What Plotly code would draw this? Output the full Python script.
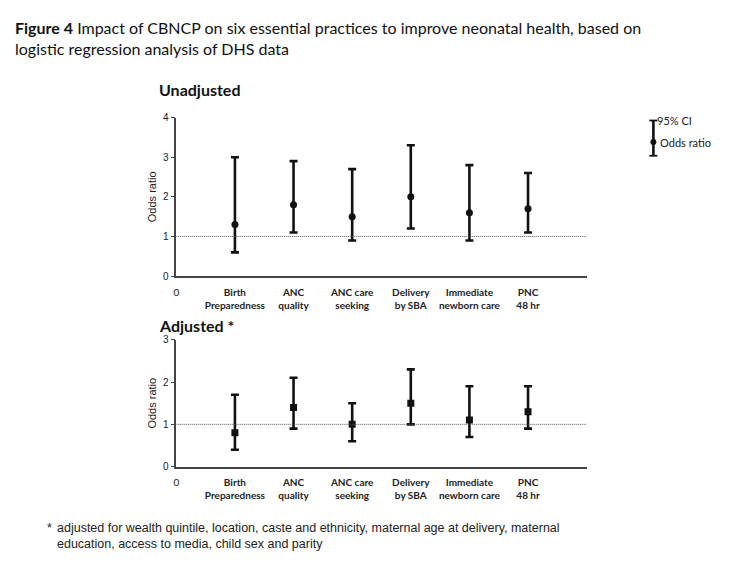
import plotly.graph_objects as go

categories = ["Birth<br>Preparedness", "ANC<br>quality", "ANC care<br>seeking",
              "Delivery<br>by SBA", "Immediate<br>newborn care", "PNC<br>48 hr"]
positions = [1, 2, 3, 4, 5, 6]

unadj_or = [1.3, 1.8, 1.5, 2.0, 1.6, 1.7]
unadj_lo = [0.6, 1.1, 0.9, 1.2, 0.9, 1.1]
unadj_hi = [3.0, 2.9, 2.7, 3.3, 2.8, 2.6]

adj_or = [0.8, 1.4, 1.0, 1.5, 1.1, 1.3]
adj_lo = [0.4, 0.9, 0.6, 1.0, 0.7, 0.9]
adj_hi = [1.7, 2.1, 1.5, 2.3, 1.9, 1.9]

W, H = 750, 563
def px(x): return x / W
def py(y): return 1 - y / H

TITLE_FONT = "Lato"

fig = go.Figure()

def add_panel(orv, lo, hi, symbol, msize, xa, ya):
    fig.add_trace(go.Scatter(
        x=positions, y=orv, mode="markers", xaxis=xa, yaxis=ya,
        marker=dict(symbol=symbol, size=msize, color="#111111"),
        error_y=dict(type="data", symmetric=False,
                     array=[h - o for h, o in zip(hi, orv)],
                     arrayminus=[o - l for o, l in zip(orv, lo)],
                     thickness=2.6, width=4, color="#111111"),
        showlegend=False, hoverinfo="skip"))

add_panel(unadj_or, unadj_lo, unadj_hi, "circle", 7, "x", "y")
add_panel(adj_or, adj_lo, adj_hi, "square", 7, "x2", "y2")

tickvals = [0] + positions
ticktext = ["0"] + ["<b>" + c.replace("<br>", "</b><br><b>") + "</b>" for c in categories]

xcommon = dict(range=[0, 7], tickvals=tickvals, ticktext=ticktext, showline=True,
               linecolor="#444444", linewidth=1.5, ticks="", showgrid=False, zeroline=False,
               ticklabelstandoff=6,
               tickfont=dict(family="Lato", size=10, color="#222222"), fixedrange=True)
ycommon = dict(showline=True, linecolor="#444444", linewidth=1.5, ticks="outside",
               ticklen=4, tickwidth=1.2, tickcolor="#444444", showgrid=False, zeroline=False,
               tickfont=dict(family="Liberation Sans", size=10, color="#222222"),
               title=dict(text="Odds ratio", font=dict(family="Liberation Sans", size=11, color="#222222"),
                          standoff=4))

fig.update_layout(
    width=W, height=H, margin=dict(l=0, r=0, t=0, b=0),
    paper_bgcolor="white", plot_bgcolor="white",
    xaxis=dict(domain=[px(174), px(586)], anchor="y", **xcommon),
    yaxis=dict(domain=[py(276), py(114)], anchor="x", range=[0, 4], dtick=1, **ycommon),
    xaxis2=dict(domain=[px(174), px(586)], anchor="y2", **xcommon),
    yaxis2=dict(domain=[py(470.7), py(341)], anchor="x2", range=[0, 3], dtick=1, **ycommon),
)

# reference lines at OR = 1
for xr, yr in [("x", "y"), ("x2", "y2")]:
    fig.add_shape(type="line", xref=xr, yref=yr, x0=0, x1=7, y0=1, y1=1,
                  line=dict(color="#555555", width=1, dash="1px,1px"))

# titles
fig.add_annotation(xref="paper", yref="paper", x=px(10), y=py(10), xanchor="left", yanchor="top",
                   align="left", showarrow=False,
                   text="<b>Figure 4</b> Impact of CBNCP on six essential practices to improve neonatal health, based on<br>logistic regression analysis of DHS data",
                   font=dict(family=TITLE_FONT, size=16, color="#111111"))
fig.add_annotation(xref="paper", yref="paper", x=px(155), y=py(85), xanchor="left", yanchor="middle",
                   showarrow=False, text="<b>Unadjusted</b>",
                   font=dict(family="Lato", size=16, color="#111111"))
fig.add_annotation(xref="paper", yref="paper", x=px(155), y=py(326), xanchor="left", yanchor="middle",
                   showarrow=False, text="<b>Adjusted *</b>",
                   font=dict(family="Lato", size=16, color="#111111"))

# footnote
fig.add_annotation(xref="paper", yref="paper", x=px(42), y=py(524), xanchor="left", yanchor="top",
                   align="left", showarrow=False, text="*",
                   font=dict(family="Liberation Sans", size=12.5, color="#222222"))
fig.add_annotation(xref="paper", yref="paper", x=px(52), y=py(524), xanchor="left", yanchor="top",
                   align="left", showarrow=False,
                   text="adjusted for wealth quintile, location, caste and ethnicity, maternal age at delivery, maternal<br>education, access to media, child sex and parity",
                   font=dict(family="Liberation Sans", size=12.5, color="#222222"))

# legend key (drawn)
lx = px(653)
fig.add_shape(type="line", xref="paper", yref="paper", x0=lx, x1=lx, y0=py(117), y1=py(153),
              line=dict(color="#111111", width=2.6))
for yy in [117, 153]:
    fig.add_shape(type="line", xref="paper", yref="paper", x0=px(649), x1=px(657), y0=py(yy), y1=py(yy),
                  line=dict(color="#111111", width=1.8))
fig.add_shape(type="circle", xref="paper", yref="paper", x0=px(650), x1=px(656), y0=py(142), y1=py(136),
              fillcolor="#111111", line=dict(color="#111111", width=0))
fig.add_annotation(xref="paper", yref="paper", x=px(655), y=py(117), xanchor="left", yanchor="middle",
                   showarrow=False, text="95% CI", font=dict(family=TITLE_FONT, size=11, color="#222222"))
fig.add_annotation(xref="paper", yref="paper", x=px(658), y=py(139), xanchor="left", yanchor="middle",
                   showarrow=False, text="Odds ratio", font=dict(family=TITLE_FONT, size=11, color="#222222"))

fig.write_html("out.html", config={"displayModeBar": False},
               post_script="document.body.style.margin='0';")
